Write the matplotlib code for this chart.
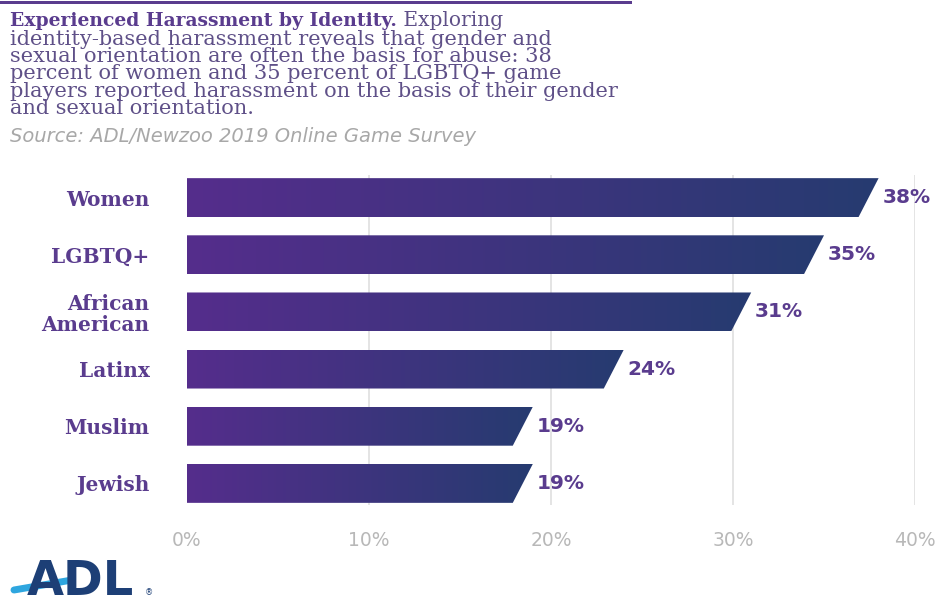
import numpy as np
import matplotlib as mpl

mpl.use('Agg')
import matplotlib.pyplot as plt
from matplotlib.patches import Polygon, Rectangle
from matplotlib.lines import Line2D
from matplotlib.colors import LinearSegmentedColormap

# survey data
categories = ['Women', 'LGBTQ+', 'African\nAmerican', 'Latinx', 'Muslim', 'Jewish']
values = [38, 35, 31, 24, 19, 19]
xticks = [0, 10, 20, 30, 40]
xtick_labels = ['0%', '10%', '20%', '30%', '40%']

heading = 'Experienced Harassment by Identity.'
lead = ' Exploring'
body_lines = [
    'identity-based harassment reveals that gender and',
    'sexual orientation are often the basis for abuse: 38',
    'percent of women and 35 percent of LGBTQ+ game',
    'players reported harassment on the basis of their gender',
    'and sexual orientation.',
]
source = 'Source: ADL/Newzoo 2019 Online Game Survey'

PURPLE = '#5a3c8e'
BODY = '#5f5088'

W, H = 943, 607
fig = plt.figure(figsize=(W / 100, H / 100), dpi=100)
fig.patch.set_facecolor('white')


def fx(px):
    return px / W


def fy(py):
    return 1 - py / H


# rule across the top of the text block
fig.add_artist(Rectangle((0, fy(4)), fx(632), 3.0 / H, transform=fig.transFigure,
                         color=PURPLE, lw=0))

# heading + paragraph
serif = 'DejaVu Serif'
t = fig.text(fx(10), fy(21), heading, fontsize=13.5, family=serif,
             fontweight='bold', color=PURPLE, va='center')
r = fig.canvas.get_renderer()
bb = t.get_window_extent(renderer=r)
fig.text(bb.x1 / fig.bbox.width, fy(21), lead, fontsize=14.5,
         family=serif, color=BODY, va='center')
fig.text(fx(10), fy(30), '\n'.join(body_lines), fontsize=15, family=serif,
         color=BODY, va='top', linespacing=0.88)

fig.text(fx(10), fy(137), source, fontsize=14, family='DejaVu Sans',
         style='italic', color='#a8a8a8', va='center')

# bar chart
ax = fig.add_axes([fx(187), fy(512), fx(915) - fx(187), (512 - 169) / H])
bar_h = 0.68
slant = 1.1
cmap = LinearSegmentedColormap.from_list('bars', ['#552d8c', '#263b70'])
grad = np.linspace(0, 1, 256).reshape(1, -1)

ax.vlines(xticks[1:], -0.4, 5.38, color='#e2e2e2', lw=1.3, zorder=1)

for i, v in enumerate(values):
    top, bot = i - bar_h / 2, i + bar_h / 2
    poly = Polygon([(0, top), (v, top), (v - slant, bot), (0, bot)], closed=True,
                   facecolor='none', edgecolor='none')
    ax.add_patch(poly)
    im = ax.imshow(grad, cmap=cmap, extent=(0, v, bot, top), aspect='auto',
                   interpolation='bilinear', zorder=2)
    im.set_clip_path(poly)
    ax.text(v + 0.2, i, '%d%%' % v, ha='left', va='center', fontsize=14.5,
            fontweight='bold', color=PURPLE, family='DejaVu Sans')

ax.set_xlim(0, 40)
ax.set_ylim(5.5, -0.5)
ax.set_xticks(xticks, xtick_labels)
ax.set_yticks(range(len(categories)), categories)
ax.tick_params(axis='x', length=0, pad=14, labelsize=13.5, labelcolor='#b8b8b8')
ax.tick_params(axis='y', length=0, pad=27, labelsize=14.5, labelcolor=PURPLE)
for lab in ax.get_yticklabels():
    lab.set_family(serif)
    lab.set_fontweight('bold')
    lab.set_linespacing(1.05)
for s in ax.spines.values():
    s.set_visible(False)
ax.set_facecolor('none')

# ADL mark
fig.text(fx(27), fy(595), 'ADL', fontsize=34.5, fontweight='bold', family='DejaVu Sans',
         color='#1d3f76', va='baseline', ha='left')
fig.add_artist(Line2D([fx(14), fx(72)], [fy(590), fy(580)], transform=fig.transFigure,
                      color='#2ea6df', lw=5, solid_capstyle='round'))
fig.text(fx(145), fy(593), '\u00ae', fontsize=6, color='#1d3f76', va='center')

fig.savefig('out.png', dpi=100)
